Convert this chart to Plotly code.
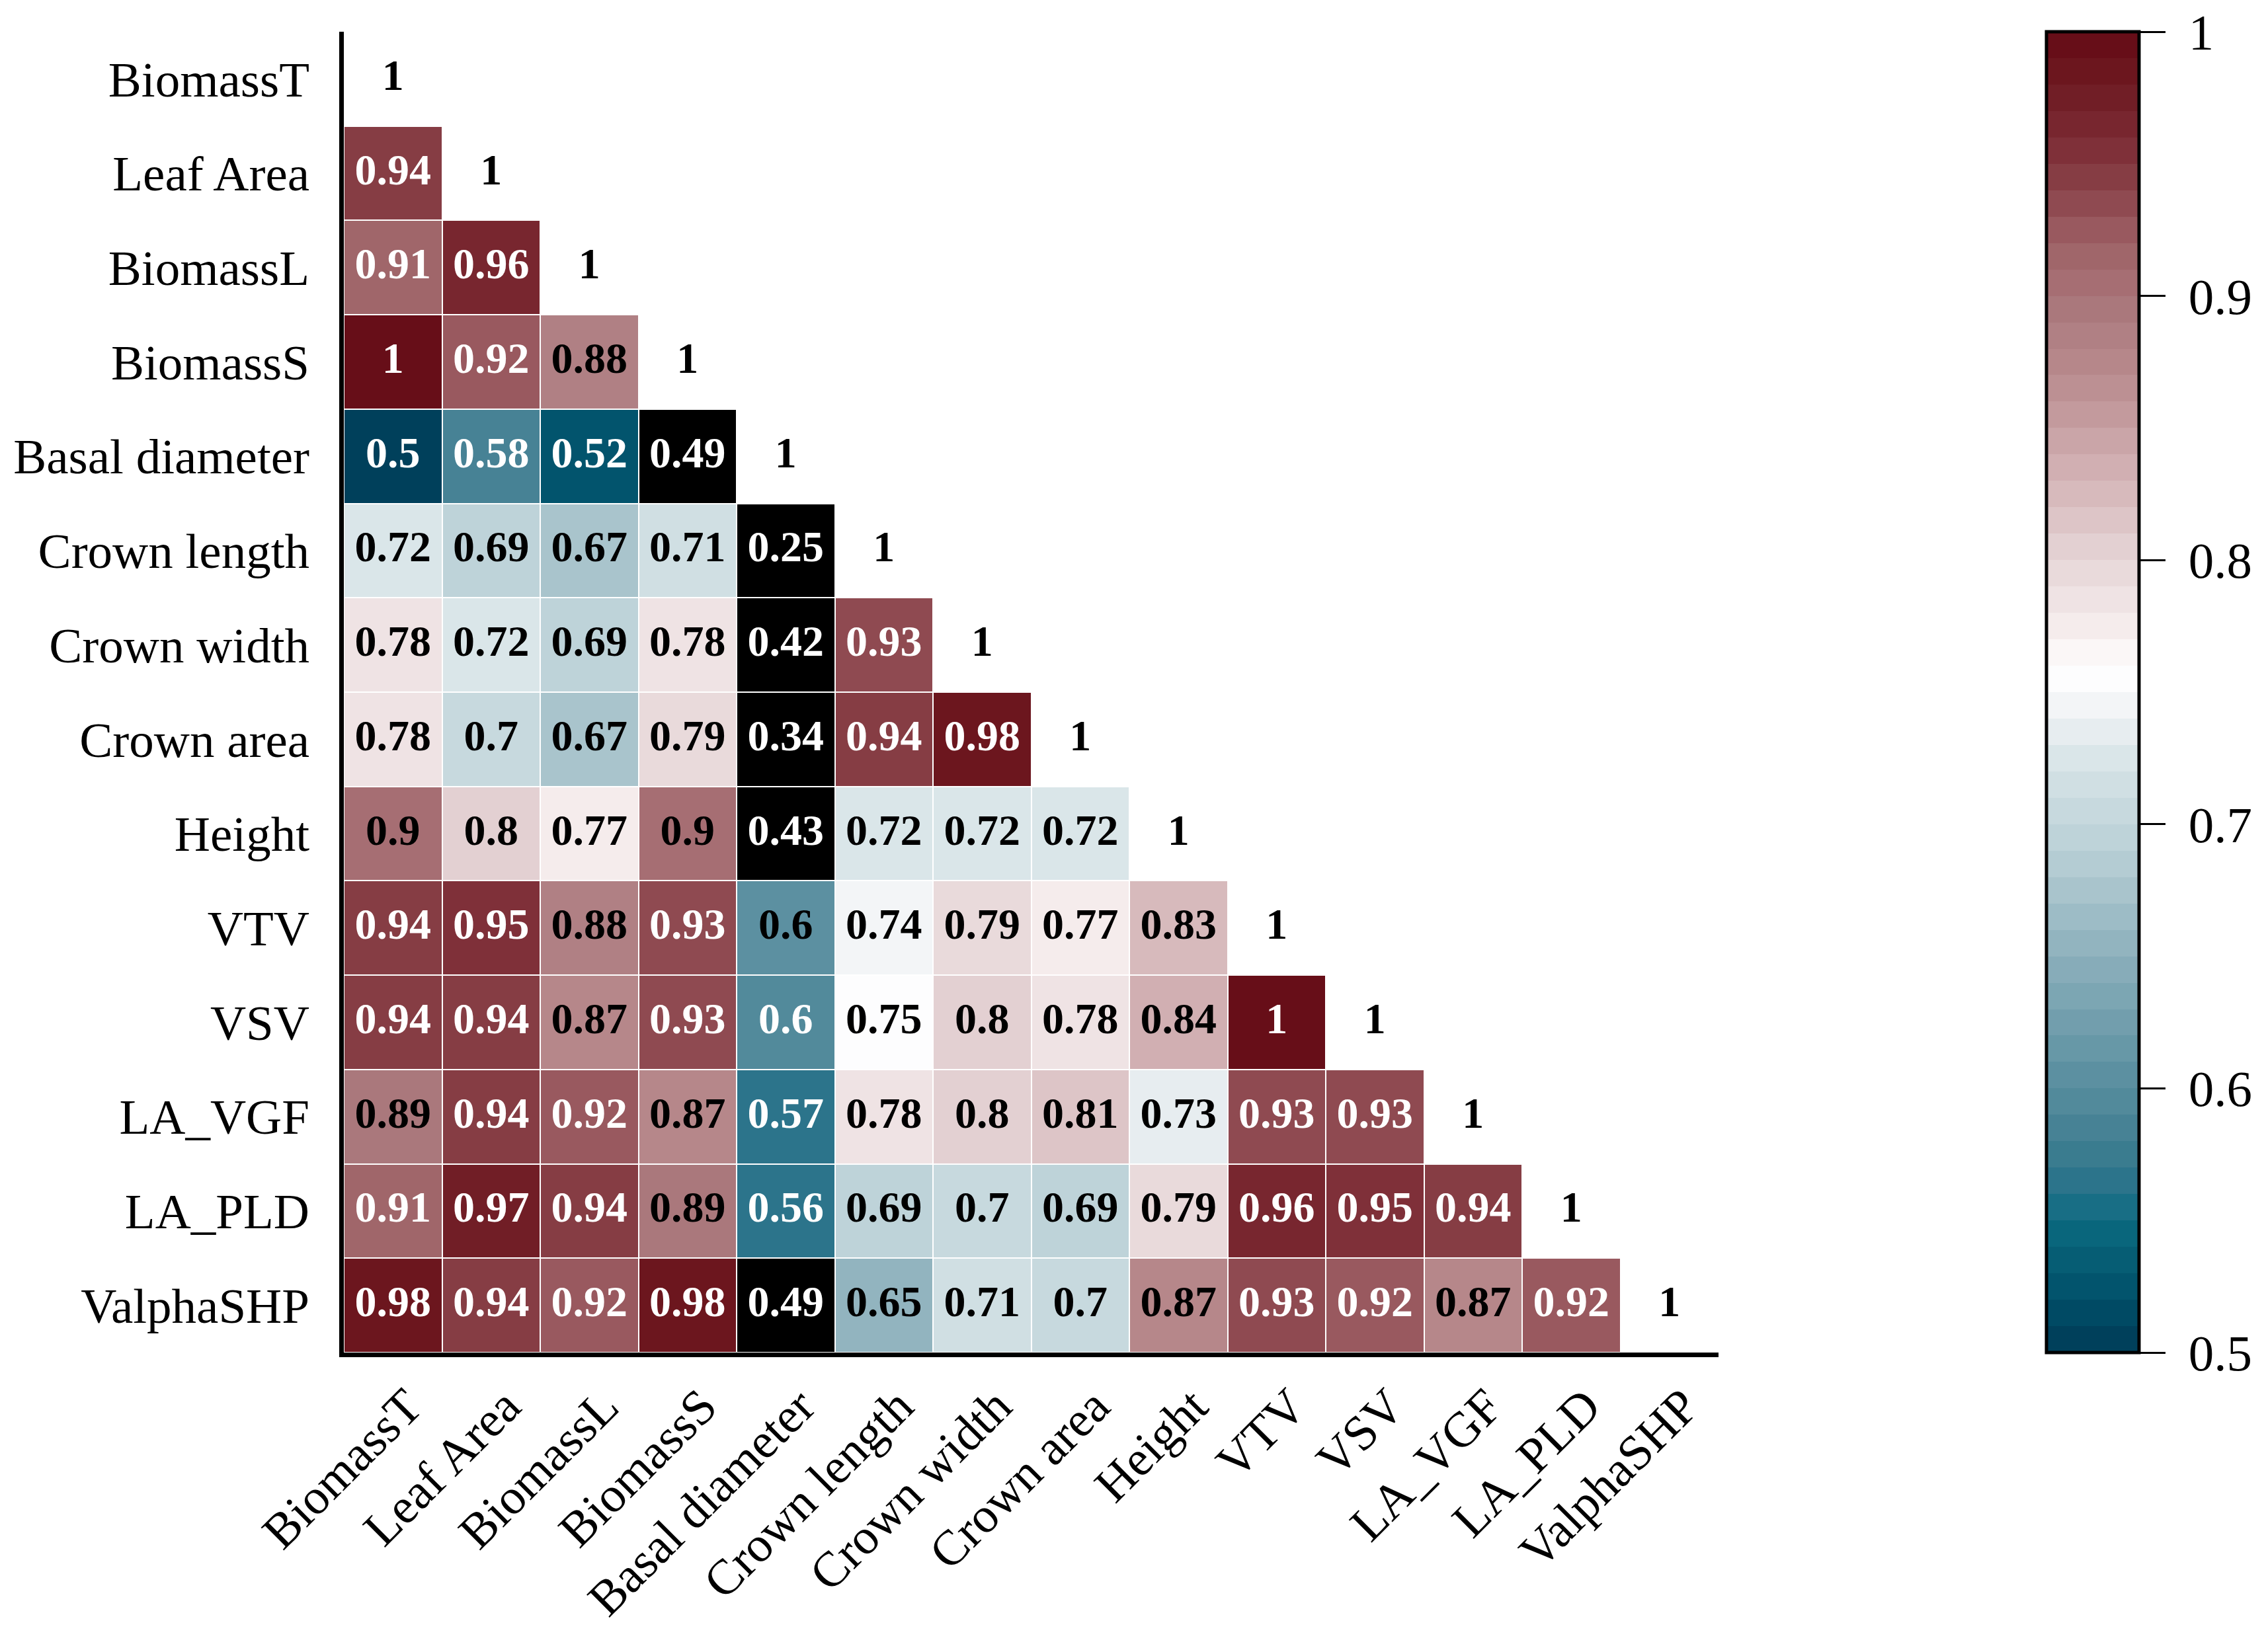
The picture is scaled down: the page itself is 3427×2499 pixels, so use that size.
import plotly.graph_objects as go

names = ["BiomassT", "Leaf Area", "BiomassL", "BiomassS", "Basal diameter",
         "Crown length", "Crown width", "Crown area", "Height", "VTV", "VSV",
         "LA_VGF", "LA_PLD", "ValphaSHP"]

row_BiomassT = [1]
row_LeafArea = [0.94, 1]
row_BiomassL = [0.91, 0.96, 1]
row_BiomassS = [1, 0.92, 0.88, 1]
row_Basal = [0.5, 0.58, 0.52, 0.49, 1]
row_CrownLength = [0.72, 0.69, 0.67, 0.71, 0.25, 1]
row_CrownWidth = [0.78, 0.72, 0.69, 0.78, 0.42, 0.93, 1]
row_CrownArea = [0.78, 0.7, 0.67, 0.79, 0.34, 0.94, 0.98, 1]
row_Height = [0.9, 0.8, 0.77, 0.9, 0.43, 0.72, 0.72, 0.72, 1]
row_VTV = [0.94, 0.95, 0.88, 0.93, 0.604, 0.74, 0.79, 0.77, 0.83, 1]
row_VSV = [0.94, 0.94, 0.87, 0.93, 0.596, 0.75, 0.8, 0.78, 0.84, 1, 1]
row_LA_VGF = [0.89, 0.94, 0.92, 0.87, 0.57, 0.78, 0.8, 0.81, 0.73, 0.93, 0.93, 1]
row_LA_PLD = [0.91, 0.97, 0.94, 0.89, 0.56, 0.69, 0.7, 0.69, 0.79, 0.96, 0.95, 0.94, 1]
row_ValphaSHP = [0.98, 0.94, 0.92, 0.98, 0.49, 0.65, 0.71, 0.7, 0.87, 0.93, 0.92, 0.87, 0.92, 1]

rows = [row_BiomassT, row_LeafArea, row_BiomassL, row_BiomassS, row_Basal,
        row_CrownLength, row_CrownWidth, row_CrownArea, row_Height, row_VTV,
        row_VSV, row_LA_VGF, row_LA_PLD, row_ValphaSHP]

cbar_ticks = [0.5, 0.6, 0.7, 0.8, 0.9, 1.0]
cbar_labels = ["0.5", "0.6", "0.7", "0.8", "0.9", "1"]

anchors = [(0.50, "#003a56"), (0.52, "#005069"), (0.55, "#0b6a80"),
           (0.56, "#25718a"), (0.57, "#33788c"), (0.58, "#427f92"),
           (0.60, "#578d9e"), (0.65, "#8cb0bc"), (0.69, "#bad0d6"),
           (0.72, "#d4e2e6"), (0.745, "#f3f5f7"), (0.757, "#ffffff"),
           (0.775, "#f5ecec"), (0.80, "#e6d6d7"), (0.83, "#d4b4b7"),
           (0.87, "#b98b8e"), (0.89, "#ad7c80"), (0.92, "#9e6166"),
           (0.94, "#8a434a"), (0.96, "#7b2a33"), (0.98, "#6e1a22"),
           (1.00, "#650a14")]


def hex2rgb(h):
    h = h.lstrip("#")
    return tuple(int(h[i:i + 2], 16) for i in (0, 2, 4))


def interp(v):
    for (v0, c0), (v1, c1) in zip(anchors[:-1], anchors[1:]):
        if v0 <= v <= v1:
            t = (v - v0) / (v1 - v0)
            a, b = hex2rgb(c0), hex2rgb(c1)
            return "rgb(%d,%d,%d)" % tuple(round(a[k] + (b[k] - a[k]) * t) for k in range(3))
    return anchors[-1][1]


nb = 50
colorscale = []
for i in range(nb):
    c = interp(0.5 + (i + 0.5) * 0.5 / nb)
    colorscale.append([i / nb, c])
    colorscale.append([(i + 1) / nb, c])

n = len(names)
z_main = [[None] * n for _ in range(n)]
z_low = [[None] * n for _ in range(n)]
tx, ty, tt, tc = [], [], [], []
for i, r in enumerate(rows):
    for j, v in enumerate(r):
        disp = f"{round(v, 2):g}"
        tx.append(j)
        ty.append(i)
        tt.append(disp)
        if i == j:
            tc.append("black")
            continue
        if v < 0.5:
            z_low[i][j] = v
            tc.append("white")
        else:
            z_main[i][j] = v
            tc.append("white" if (v < 0.6 or v > 0.905) else "black")

FONT = "Liberation Serif"

fig = go.Figure()
fig.add_trace(go.Heatmap(
    z=z_main, x=list(range(n)), y=list(range(n)),
    zmin=0.5, zmax=1, colorscale=colorscale, xgap=2, ygap=2,
    hoverongaps=False,
    colorbar=dict(
        x=1.2386, xanchor="left", xref="paper",
        y=0.5, yanchor="middle", len=1.0, lenmode="fraction",
        thickness=140, outlinewidth=5, outlinecolor="black",
        tickvals=cbar_ticks,
        ticktext=["\u00a0" + s for s in cbar_labels],
        ticks="outside", ticklen=38, tickwidth=3, tickcolor="black",
        tickfont=dict(family=FONT, size=77, color="black"),
        ticklabeloverflow="allow",
        ypad=0, xpad=0,
    ),
))
fig.add_trace(go.Heatmap(
    z=z_low, x=list(range(n)), y=list(range(n)),
    zmin=0, zmax=1, colorscale=[[0, "black"], [1, "black"]],
    showscale=False, xgap=2, ygap=2, hoverongaps=False,
))
fig.add_trace(go.Scatter(
    x=tx, y=ty, mode="text", text=tt,
    textfont=dict(family=FONT, size=66, color=tc, weight="bold"),
    hoverinfo="skip", showlegend=False,
))

fig.update_layout(
    width=3427, height=2499,
    margin=dict(l=504, r=836, t=40, b=461),
    paper_bgcolor="white", plot_bgcolor="white",
    showlegend=False,
    xaxis=dict(
        range=[-0.5, n - 0.5], tickvals=list(range(n)), ticktext=names,
        tickangle=-45, showgrid=False, zeroline=False,
        showline=True, linecolor="black", linewidth=7,
        ticks="", tickfont=dict(family=FONT, size=75, color="black"),
        ticklabelstandoff=0, ticklabelshift=22,
    ),
    yaxis=dict(
        range=[n - 0.5, -0.5], tickvals=list(range(n)), ticktext=names,
        showgrid=False, zeroline=False,
        showline=True, linecolor="black", linewidth=7,
        ticks="", tickfont=dict(family=FONT, size=75, color="black"),
        ticklabelstandoff=30,
    ),
)

fig.write_html("out.html")
